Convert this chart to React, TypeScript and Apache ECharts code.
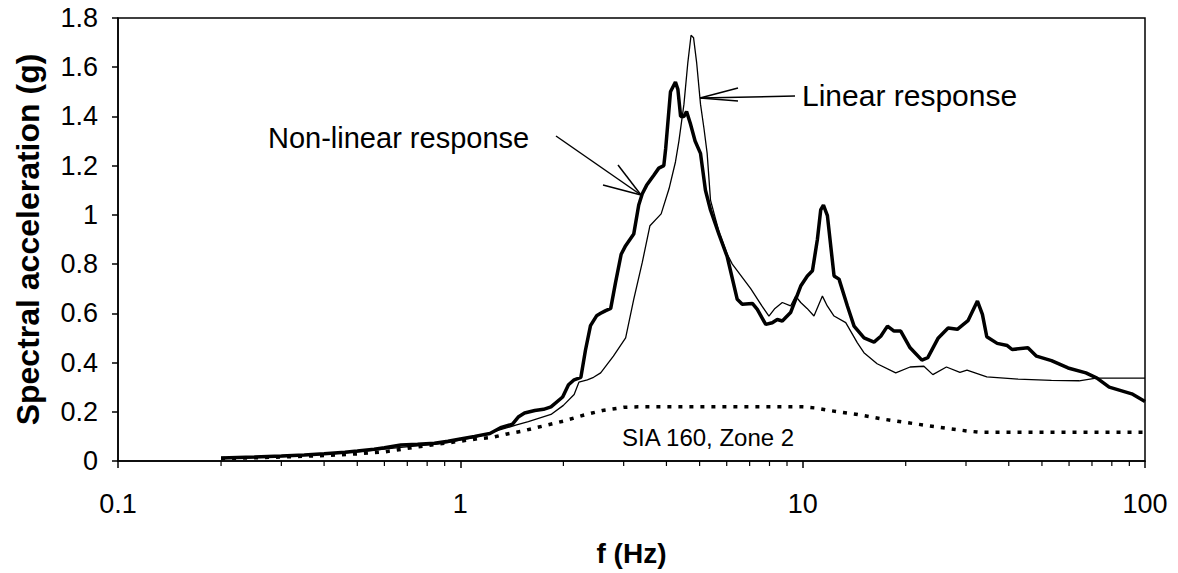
import React, { useEffect, useRef } from "react";
import * as echarts from "echarts";

// Non-linear response (thick line)
const nonlinearFreq = [
  0.2, 0.25, 0.3, 0.35, 0.4, 0.46, 0.5, 0.56, 0.6, 0.67, 0.75, 0.84, 0.92, 1.0, 1.1, 1.22, 1.31, 1.42, 1.48, 1.54,
  1.65, 1.75, 1.84, 1.99, 2.07, 2.15, 2.25, 2.32, 2.4, 2.5, 2.57, 2.65, 2.75, 2.84, 2.95, 3.04, 3.21, 3.32, 3.4, 3.5,
  3.67, 3.8, 3.93, 3.98, 4.11, 4.25, 4.32, 4.4, 4.5, 4.58, 4.7, 4.85, 5.03, 5.2, 5.38, 5.7, 6.02, 6.44, 6.66, 7.13,
  7.37, 7.8, 8.15, 8.43, 8.72, 9.22, 9.87, 10.32, 10.68, 11.04, 11.29, 11.5, 11.81, 12.35, 12.77, 13.51, 14.13, 15.11,
  16.16, 16.91, 17.69, 18.49, 19.34, 20.6, 22.3, 23.2, 24.9, 26.6, 28.3, 30.4, 32.4, 33.5, 34.5, 37, 39.6, 40.9, 45.5,
  48.2, 53.3, 59.6, 67.2, 72.4, 78.6, 91.5, 100,
];
const nonlinearAcc = [
  0.012, 0.016, 0.02, 0.024, 0.029, 0.036, 0.041, 0.048, 0.054, 0.065, 0.068, 0.072, 0.08, 0.09, 0.1, 0.112, 0.135, 0.15, 0.18, 0.195,
  0.205, 0.21, 0.22, 0.26, 0.31, 0.33, 0.34, 0.45, 0.55, 0.59, 0.6, 0.61, 0.62, 0.725, 0.84, 0.875, 0.922, 1.04, 1.086, 1.12,
  1.16, 1.19, 1.2, 1.27, 1.5, 1.54, 1.51, 1.4, 1.4, 1.42, 1.37, 1.3, 1.25, 1.1, 1.02, 0.92, 0.83, 0.657, 0.637, 0.64,
  0.616, 0.555, 0.562, 0.575, 0.569, 0.603, 0.711, 0.752, 0.773, 0.9, 1.02, 1.04, 0.997, 0.752, 0.739, 0.63, 0.548, 0.5,
  0.483, 0.507, 0.548, 0.528, 0.528, 0.46, 0.41, 0.42, 0.5, 0.54, 0.535, 0.57, 0.65, 0.596, 0.505, 0.478, 0.469, 0.453, 0.46,
  0.426, 0.408, 0.378, 0.358, 0.337, 0.3, 0.273, 0.242,
];

// Linear response (thin line)
const linearFreq = [
  0.2, 0.3, 0.4, 0.5, 0.6, 0.67, 0.75, 0.84, 0.92, 1.0, 1.1, 1.17, 1.31, 1.46, 1.58, 1.84, 2.0, 2.15, 2.22, 2.35,
  2.45, 2.57, 2.8, 3.04, 3.21, 3.4, 3.58, 3.86, 4.07, 4.25, 4.35, 4.5, 4.62, 4.72, 4.8, 4.9, 5.03, 5.15, 5.26, 5.38,
  5.7, 6.02, 6.23, 7.05, 7.6, 7.97, 8.3, 8.72, 9.22, 9.54, 9.87, 10.3, 10.79, 11.1, 11.42, 11.8, 12.35, 13.36, 14.45, 15.1,
  16.5, 18.7, 20.6, 22.6, 24, 26.3, 28.8, 30.2, 34.5, 42.6, 53.3, 64.2, 72, 100,
];
const linearAcc = [
  0.01, 0.018, 0.027, 0.037, 0.048, 0.055, 0.062, 0.068, 0.075, 0.085, 0.095, 0.106, 0.127, 0.147, 0.16, 0.189, 0.226, 0.27, 0.32, 0.33,
  0.34, 0.358, 0.426, 0.5, 0.657, 0.807, 0.956, 1.004, 1.106, 1.215, 1.3, 1.45, 1.62, 1.73, 1.72, 1.62, 1.45, 1.35, 1.25, 1.06,
  0.93, 0.84, 0.8, 0.7, 0.63, 0.589, 0.62, 0.644, 0.63, 0.67, 0.644, 0.62, 0.589, 0.63, 0.67, 0.63, 0.589, 0.562, 0.48, 0.44,
  0.395, 0.358, 0.382, 0.385, 0.351, 0.382, 0.36, 0.369, 0.342, 0.333, 0.328, 0.326, 0.337, 0.337,
];

// SIA 160, Zone 2 design spectrum (dotted)
const codeFreq = [0.2, 0.3, 0.4, 0.5, 0.6, 0.73, 0.935, 1.12, 1.25, 1.37, 1.5, 1.66, 2.0, 2.3, 2.6, 3.0, 3.3, 10, 11, 12, 14.3, 17.2, 20.6, 25.1, 30.2, 32.8, 100];
const codeAcc = [0.01, 0.016, 0.022, 0.029, 0.037, 0.055, 0.075, 0.09, 0.097, 0.11, 0.12, 0.135, 0.162, 0.187, 0.205, 0.218, 0.22, 0.22, 0.215, 0.205, 0.19, 0.17, 0.154, 0.137, 0.122, 0.117, 0.117];

const minorTickFreqs = [0.2, 0.3, 0.4, 0.5, 0.6, 0.7, 0.8, 0.9, 2, 3, 4, 5, 6, 7, 8, 9, 20, 30, 40, 50, 60, 70, 80, 90];

const yAxisTitle = "Spectral acceleration (g)";
const xAxisTitle = "f (Hz)";
const nonlinearLabel = "Non-linear response";
const linearLabel = "Linear response";
const codeLabel = "SIA 160, Zone 2";

const FONT = "'Liberation Sans', Arial, Helvetica, sans-serif";

export default function App() {
  const ref = useRef<HTMLDivElement>(null);
  useEffect(() => {
    if (!ref.current) return;
    const chart = echarts.init(ref.current, null, { renderer: "svg" });
    const pair = (fs: number[], vs: number[]) => fs.map((f, i) => [f, vs[i]]);
    const lineSeg = (x1: number, y1: number, x2: number, y2: number) => ({
      type: "line",
      shape: { x1, y1, x2, y2 },
      style: { stroke: "#000", lineWidth: 1.5 },
      silent: true,
    });
    chart.setOption({
      animation: false,
      backgroundColor: "#fff",
      grid: { left: 118, right: 33, top: 18, bottom: 112, show: true, borderColor: "#000", borderWidth: 1.5, backgroundColor: "transparent" },
      xAxis: {
        type: "log",
        logBase: 10,
        min: 0.1,
        max: 100,
        axisLine: { show: true, onZero: false, lineStyle: { color: "#000", width: 1.5 } },
        axisTick: { show: true, length: 7, lineStyle: { color: "#000", width: 1.5 } },
        splitLine: { show: false },
        axisLabel: {
          fontSize: 27,
          color: "#000",
          fontFamily: FONT,
          margin: 29,
          formatter: (v: number) => String(Number(v.toPrecision(3))),
        },
        name: xAxisTitle,
        nameLocation: "middle",
        nameGap: 78,
        nameTextStyle: { fontWeight: "bold", fontSize: 28, fontFamily: FONT, color: "#000" },
      },
      yAxis: {
        type: "value",
        min: 0,
        max: 1.8,
        interval: 0.2,
        axisLine: { show: true, lineStyle: { color: "#000", width: 1.5 } },
        axisTick: { show: true, length: 6, lineStyle: { color: "#000", width: 1.5 } },
        splitLine: { show: false },
        axisLabel: {
          fontSize: 27,
          color: "#000",
          fontFamily: FONT,
          margin: 20,
          formatter: (v: number) => String(Math.round(v * 10) / 10),
        },
        name: yAxisTitle,
        nameLocation: "middle",
        nameRotate: 90,
        nameGap: 74,
        nameTextStyle: { fontWeight: "bold", fontSize: 32, fontFamily: FONT, color: "#000" },
      },
      series: [
        {
          name: "SIA 160, Zone 2",
          type: "line",
          data: pair(codeFreq, codeAcc),
          showSymbol: false,
          symbol: "none",
          lineStyle: { color: "#000", width: 3.5, type: [4, 7] },
          z: 2,
        },
        {
          name: "Linear response",
          type: "line",
          data: pair(linearFreq, linearAcc),
          showSymbol: false,
          symbol: "none",
          lineStyle: { color: "#000", width: 1.3 },
          z: 3,
        },
        {
          name: "Non-linear response",
          type: "line",
          data: pair(nonlinearFreq, nonlinearAcc),
          showSymbol: false,
          symbol: "none",
          lineStyle: { color: "#000", width: 3.5 },
          z: 4,
        },
        {
          name: "minor ticks",
          type: "custom",
          data: minorTickFreqs.map((f) => [f, 0]),
          silent: true,
          clip: false,
          renderItem: (params: any, api: any) => {
            const p = api.coord([api.value(0), 0]);
            return {
              type: "line",
              shape: { x1: p[0], y1: p[1], x2: p[0], y2: p[1] + 5 },
              style: { stroke: "#000", lineWidth: 1.2 },
            };
          },
          z: 5,
        },
      ],
      graphic: [
        {
          type: "text",
          left: 268,
          top: 123,
          silent: true,
          style: { text: nonlinearLabel, fontSize: 29, fontFamily: FONT, fill: "#000" },
        },
        {
          type: "text",
          left: 802,
          top: 80,
          silent: true,
          style: { text: linearLabel, fontSize: 30, fontFamily: FONT, fill: "#000" },
        },
        {
          type: "text",
          left: 622,
          top: 425,
          silent: true,
          style: { text: codeLabel, fontSize: 24, fontFamily: FONT, fill: "#000" },
        },
        lineSeg(556, 136, 641, 195),
        lineSeg(618, 165, 641, 195),
        lineSeg(603, 185, 641, 195),
        lineSeg(795, 96, 700, 98),
        lineSeg(738, 88, 700, 98),
        lineSeg(738, 101, 700, 98),
      ],
    });
    return () => chart.dispose();
  }, []);
  return <div ref={ref} style={{ position: "fixed", left: 0, top: 0, width: 1178, height: 573 }} />;
}
